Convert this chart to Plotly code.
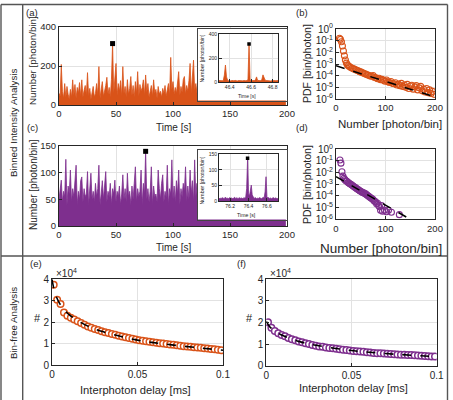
import numpy as np
import plotly.graph_objects as go

W, H = 453, 400
ORANGE = '#D95319'
PURPLE = '#7E2F8E'
AX = '#262626'
GRID = '#e2e2e2'
FONT = 'Liberation Sans, Arial, sans-serif'

# ---------------- data ----------------
# (a) binned intensity trace, 1 s bins, photons/bin
COUNTS_A = [60, 45, 208, 70, 35, 110, 40, 95, 55, 30,
            80, 40, 129, 50, 105, 35, 90, 60, 115, 45,
            129, 40, 75, 100, 50, 166, 45, 85, 30, 70,
            95, 40, 60, 110, 50, 197, 35, 80, 120, 45,
            70, 100, 142, 55, 90, 40, 130, 315, 60, 120,
            213, 50, 110, 70, 125, 45, 197, 60, 95, 40,
            130, 55, 85, 146, 50, 100, 40, 120, 60, 171,
            45, 105, 70, 90, 129, 50, 154, 65, 110, 40,
            75, 100, 45, 129, 60, 80, 35, 95, 55, 70,
            40, 85, 60, 100, 45, 75, 110, 50, 244, 80,
            120, 55, 90, 60, 140, 171, 50, 95, 65, 130,
            146, 55, 100, 70, 125, 213, 60, 140, 230, 75,
            110, 60, 180, 50, 95, 70, 140, 55, 100, 65,
            120, 45, 90, 160, 55, 100, 70, 130, 50, 95,
            75, 150, 60, 110, 45, 200, 70, 120, 55, 90,
            65, 140, 50, 100, 75, 170, 60, 95, 45, 130,
            80, 110, 55, 150, 70, 100, 50, 125, 65, 90,
            140, 60, 105, 45, 180, 75, 95, 55, 120, 70,
            100, 50, 160, 65, 90, 45, 130, 75, 110, 60,
            150, 55, 95, 70, 120, 50, 100, 65, 85, 60]
MARK_A_T = [47]
MARK_A_N = [315]

# (a) inset, 10 ms bins starting at 46.30 s
INSET_A_START = 46.30
INSET_A_COUNTS = [14, 12, 16, 13, 15, 60, 144, 45, 18, 12,
                  14, 11, 15, 13, 12, 16, 13, 11, 14, 12,
                  15, 13, 12, 14, 11, 13, 15, 22, 320, 18,
                  13, 14, 12, 15, 22, 45, 16, 12, 14, 13,
                  25, 62, 40, 18, 15, 13, 12, 14, 11, 13,
                  15, 12, 14, 13, 12, 14]
MARK_A_INSET_T = [46.58]
MARK_A_INSET_N = [320]

# (c) binned intensity trace
COUNTS_C = [50, 70, 86, 45, 65, 55, 125, 40, 75, 60,
            105, 45, 70, 55, 80, 114, 40, 65, 50, 85,
            92, 45, 70, 55, 60, 102, 40, 75, 99, 50,
            65, 45, 80, 55, 70, 114, 40, 60, 85, 50,
            75, 102, 45, 65, 55, 80, 40, 70, 60, 86,
            45, 65, 55, 75, 40, 60, 96, 50, 70, 45,
            99, 55, 65, 40, 75, 50, 80, 111, 45, 70,
            55, 65, 105, 40, 80, 60, 140, 50, 70, 45,
            65, 111, 40, 75, 55, 60, 45, 105, 70, 50,
            80, 96, 45, 65, 55, 114, 40, 70, 60, 124,
            50, 75, 45, 85, 60, 105, 40, 70, 55, 80,
            65, 111, 45, 75, 50, 105, 60, 85, 45, 124,
            55, 80, 45, 95, 60, 70, 40, 110, 50, 75,
            60, 90, 45, 70, 100, 55, 65, 40, 85, 60,
            75, 45, 105, 55, 70, 50, 90, 60, 45, 80,
            65, 115, 50, 70, 45, 85, 60, 95, 50, 70,
            45, 80, 60, 100, 55, 75, 40, 90, 65, 50,
            85, 55, 70, 45, 110, 60, 75, 50, 95, 65,
            45, 80, 60, 70, 100, 50, 75, 45, 90, 60,
            70, 50, 85, 60, 105, 45, 75, 55, 65, 50]
MARK_C_T = [76]
MARK_C_N = [140]

INSET_C_START = 76.08
INSET_C_COUNTS = [9, 7, 10, 8, 11, 7, 9, 12, 8, 10,
                  7, 9, 11, 8, 10, 7, 9, 12, 8, 10,
                  9, 7, 11, 8, 10, 9, 7, 11, 9, 12,
                  40, 137, 25, 15, 35, 51, 20, 10, 8, 11,
                  9, 7, 10, 8, 11, 9, 7, 10, 12, 9,
                  30, 78, 14, 9, 11, 8, 10, 7, 9, 11,
                  8, 10, 9, 7, 10]
MARK_C_INSET_T = [76.39]
MARK_C_INSET_N = [137]
INSET_STEP = 0.01

# (b) PDF of counts
PDF_B_X = [7, 9, 11, 13, 15, 17, 19, 21, 23, 25, 27, 30, 33, 36, 39, 42, 45, 48,
           51, 54, 57, 60, 63, 66, 69, 72, 75, 78, 81, 84, 87, 90, 93, 96, 99,
           102, 105, 108, 111, 114, 117, 120, 123, 126, 129, 132, 135, 138, 141,
           144, 147, 150, 153, 156, 159, 162, 165, 168, 171, 174, 177, 180, 183,
           186, 189, 192, 195, 198]
PDF_B_Y = [0.16, 0.13, 0.08, 0.035, 0.013, 5e-3, 2.2e-3, 1.2e-3, 8.5e-4, 7e-4,
           6e-4, 5e-4, 4.3e-4, 3.8e-4, 3.3e-4, 2.9e-4, 2.6e-4, 2.2e-4,
           2.0e-4, 1.8e-4, 1.5e-4, 1.4e-4, 1.2e-4, 1.1e-4, 9.5e-5, 8.8e-5, 1.0e-4,
           7e-5, 6.5e-5, 5.5e-5, 6e-5, 4.5e-5, 4.8e-5, 4e-5, 3.4e-5,
           4.2e-5, 3e-5, 2.6e-5, 3.2e-5, 2.2e-5, 2.0e-5, 2.5e-5, 1.6e-5, 1.9e-5,
           1.4e-5, 2.2e-5, 1.2e-5, 1.6e-5, 1.0e-5, 1.8e-5, 8e-6, 1.3e-5, 1.5e-5,
           7e-6, 1.1e-5, 1.4e-5, 6e-6, 9e-6, 1.2e-5, 5e-6, 7e-6, 4e-6, 8e-6,
           3.5e-6, 6e-6, 3e-6, 4.5e-6, 2.5e-6]
FIT_B_X = [0, 200]
FIT_B_Y = [7e-4, 1.5e-6]

# (d) PDF of counts
PDF_D_X = [8, 10, 12, 14, 16, 18, 20, 22, 24, 26, 28, 30, 32, 34, 36, 38, 40, 42,
           44, 46, 48, 50, 52, 54, 56, 58, 60, 62, 64, 66, 68, 70, 72, 74, 76, 78,
           80, 82, 84, 86, 88, 90, 92, 94, 98, 102, 106, 112, 128]
PDF_D_Y = [0.12, 0.065, 0.012, 5e-3, 3.2e-3, 2.5e-3, 2.0e-3, 1.8e-3, 1.5e-3, 1.3e-3,
           1.1e-3, 1.0e-3, 8.5e-4, 7.5e-4, 6.5e-4, 5.5e-4, 5e-4, 4.2e-4,
           3.8e-4, 3.2e-4, 2.8e-4, 2.5e-4, 2.2e-4, 2.0e-4, 1.9e-4, 1.6e-4, 1.5e-4,
           1.25e-4, 1.1e-4, 9.5e-5, 8e-5, 7e-5, 6e-5, 5.5e-5, 4.2e-5, 3.5e-5,
           3.2e-5, 2.2e-5, 2.4e-5, 1.5e-5, 1.2e-5, 6e-6, 1.5e-5, 5e-6, 6e-6,
           4.5e-6, 6e-6, 4e-6, 2.5e-6]
FIT_D_X = [0, 150]
FIT_D_Y = [4.5e-3, 1e-6]

# (e), (f) interphoton delay histograms (counts in units of 1e4)
DELAY = [0.001, 0.003, 0.005, 0.007, 0.009, 0.011, 0.013, 0.015, 0.017, 0.019,
         0.021, 0.023, 0.025, 0.027, 0.029, 0.031, 0.033, 0.035, 0.037, 0.039,
         0.041, 0.043, 0.045, 0.047, 0.049, 0.051, 0.053, 0.055, 0.057, 0.059,
         0.061, 0.063, 0.065, 0.067, 0.069, 0.071, 0.073, 0.075, 0.077, 0.079,
         0.081, 0.083, 0.085, 0.087, 0.089, 0.091, 0.093, 0.095, 0.097, 0.099]
HIST_E = [3.75, 3.05, 2.85, 2.45, 2.3, 2.2, 2.12, 2.04, 1.96, 1.88,
          1.8, 1.74, 1.68, 1.63, 1.58, 1.53, 1.49, 1.45, 1.41, 1.37,
          1.33, 1.3, 1.26, 1.22, 1.19, 1.16, 1.13, 1.11, 1.08, 1.06,
          1.04, 1.02, 1.0, 0.98, 0.96, 0.94, 0.92, 0.9, 0.88, 0.86,
          0.85, 0.83, 0.82, 0.8, 0.78, 0.77, 0.75, 0.73, 0.71, 0.69]
FIT_E_X = [0, 0.002, 0.005, 0.01, 0.02, 0.03, 0.05, 0.07, 0.1]
FIT_E_Y = [4.0, 3.3, 2.8, 2.35, 1.85, 1.55, 1.16, 0.94, 0.69]
HIST_F = [2.0, 1.75, 1.6, 1.5, 1.42, 1.36, 1.28, 1.22, 1.17, 1.12,
          1.08, 1.03, 1.0, 0.96, 0.92, 0.89, 0.87, 0.84, 0.82, 0.8,
          0.78, 0.76, 0.74, 0.72, 0.7, 0.68, 0.67, 0.65, 0.64, 0.62,
          0.61, 0.59, 0.58, 0.57, 0.56, 0.55, 0.54, 0.53, 0.52, 0.51,
          0.5, 0.49, 0.49, 0.48, 0.47, 0.46, 0.45, 0.44, 0.43, 0.42]
FIT_F_X = [0, 0.002, 0.005, 0.01, 0.02, 0.03, 0.05, 0.07, 0.1]
FIT_F_Y = [2.05, 1.8, 1.6, 1.38, 1.1, 0.93, 0.7, 0.56, 0.42]

# ---------------- helpers ----------------
def dx(a, b):
    return [a / W, b / W]

def dy(top, bottom):
    return [1 - bottom / H, 1 - top / H]

def px(x):
    return x / W

def py(y):
    return 1 - y / H

fig = go.Figure()

time_a = np.arange(len(COUNTS_A))
time_c = np.arange(len(COUNTS_C))
t_ia = np.round(INSET_A_START + INSET_STEP * np.arange(len(INSET_A_COUNTS)), 2)
t_ic = np.round(INSET_C_START + INSET_STEP * np.arange(len(INSET_C_COUNTS)), 2)

def trace_fill(x, y, color, ax, lw=0.8):
    fig.add_trace(go.Scatter(x=x, y=y, mode='lines', line=dict(color=color, width=lw),
                             fill='tozeroy', fillcolor=color, xaxis='x' + ax, yaxis='y' + ax,
                             showlegend=False, hoverinfo='skip'))

def marker(x, y, ax, size=5):
    fig.add_trace(go.Scatter(x=x, y=y, mode='markers',
                             marker=dict(symbol='square', size=size, color='black'),
                             xaxis='x' + ax, yaxis='y' + ax, showlegend=False))

# (a) main
trace_fill(time_a, COUNTS_A, ORANGE, '')
marker(MARK_A_T, MARK_A_N, '')
# box for inset (a)
fig.add_trace(go.Scatter(x=[None], y=[None], xaxis='x2', yaxis='y2', showlegend=False))
# inset (a)
trace_fill(t_ia, INSET_A_COUNTS, ORANGE, '3', 0.8)
marker(MARK_A_INSET_T, MARK_A_INSET_N, '3', 3.5)
# (b)
fig.add_trace(go.Scatter(x=PDF_B_X, y=PDF_B_Y, mode='markers',
                         marker=dict(symbol='circle-open', size=6, color=ORANGE, line=dict(width=1.1)),
                         xaxis='x4', yaxis='y4', showlegend=False))
fig.add_trace(go.Scatter(x=FIT_B_X, y=FIT_B_Y, mode='lines', line=dict(color='black', width=1.5, dash='dash'),
                         xaxis='x4', yaxis='y4', showlegend=False))
# (c) main
trace_fill(time_c, COUNTS_C, PURPLE, '5')
marker(MARK_C_T, MARK_C_N, '5')
fig.add_trace(go.Scatter(x=[None], y=[None], xaxis='x6', yaxis='y6', showlegend=False))
trace_fill(t_ic, INSET_C_COUNTS, PURPLE, '7', 0.8)
marker(MARK_C_INSET_T, MARK_C_INSET_N, '7', 3.5)
# (d)
fig.add_trace(go.Scatter(x=PDF_D_X, y=PDF_D_Y, mode='markers',
                         marker=dict(symbol='circle-open', size=6, color=PURPLE, line=dict(width=1.1)),
                         xaxis='x8', yaxis='y8', showlegend=False))
fig.add_trace(go.Scatter(x=FIT_D_X, y=FIT_D_Y, mode='lines', line=dict(color='black', width=1.5, dash='dash'),
                         xaxis='x8', yaxis='y8', showlegend=False))
# (e)
fig.add_trace(go.Scatter(x=DELAY, y=HIST_E, mode='markers',
                         marker=dict(symbol='circle', size=6.5, color='white', line=dict(color=ORANGE, width=1.5)),
                         xaxis='x9', yaxis='y9', showlegend=False))
fig.add_trace(go.Scatter(x=FIT_E_X, y=FIT_E_Y, mode='lines', line=dict(color='black', width=1.6, dash='dash', shape='spline'),
                         xaxis='x9', yaxis='y9', showlegend=False))
# (f)
fig.add_trace(go.Scatter(x=DELAY, y=HIST_F, mode='markers',
                         marker=dict(symbol='circle', size=6.5, color='white', line=dict(color=PURPLE, width=1.5)),
                         xaxis='x10', yaxis='y10', showlegend=False))
fig.add_trace(go.Scatter(x=FIT_F_X, y=FIT_F_Y, mode='lines', line=dict(color='black', width=1.6, dash='dash', shape='spline'),
                         xaxis='x10', yaxis='y10', showlegend=False))

def axis(domain, anchor, rng, tickvals, ticktext=None, size=9, typ='linear', grid=True):
    d = dict(domain=domain, anchor=anchor, range=rng, tickvals=tickvals, type=typ,
             showline=True, mirror=True, linecolor=AX, linewidth=1,
             ticks='inside', ticklen=3, tickcolor=AX, tickwidth=0.8,
             showgrid=grid, gridcolor=GRID, gridwidth=1, zeroline=False,
             tickfont=dict(size=size, color=AX, family=FONT))
    if ticktext is not None:
        d['ticktext'] = ticktext
    return d

pow_vals = [1e-6, 1e-5, 1e-4, 1e-3, 1e-2, 1e-1, 1]
pow_text = ['10<sup>-6</sup>', '10<sup>-5</sup>', '10<sup>-4</sup>', '10<sup>-3</sup>',
            '10<sup>-2</sup>', '10<sup>-1</sup>', '10<sup>0</sup>']

box = dict(showline=True, mirror=True, linecolor='#444', linewidth=1, showgrid=False,
           showticklabels=False, ticks='', zeroline=False, range=[0, 1])

layout = dict(
    width=W, height=H, margin=dict(l=0, r=0, t=0, b=0),
    paper_bgcolor='white', plot_bgcolor='white', template='none',
    font=dict(family=FONT, color=AX),
    xaxis=axis(dx(59, 287), 'y', [0, 200], [0, 50, 100, 150, 200], size=9.5),
    yaxis=axis(dy(27, 105), 'x', [0, 400], [0, 200, 400], size=9.5),
    xaxis2=dict(box, domain=dx(198, 287), anchor='y2'),
    yaxis2=dict(box, domain=dy(29, 100.5), anchor='x2'),
    xaxis3=axis(dx(219, 278), 'y3', [46.3, 46.85], [46.4, 46.6, 46.8], size=5),
    yaxis3=axis(dy(34.3, 82.3), 'x3', [0, 400], [0, 200, 400], size=5),
    xaxis4=axis(dx(336, 435), 'y4', [0, 200], [0, 100, 200], size=9.5),
    yaxis4=axis(dy(29, 99), 'x4', [-6, 0], pow_vals, pow_text, typ='log', size=10),
    xaxis5=axis(dx(59, 287), 'y5', [0, 200], [0, 50, 100, 150, 200], size=9.5),
    yaxis5=axis(dy(146, 226), 'x5', [0, 150], [0, 50, 100, 150], size=9.5),
    xaxis6=dict(box, domain=dx(197.5, 287), anchor='y6'),
    yaxis6=dict(box, domain=dy(149.5, 219.5), anchor='x6'),
    xaxis7=axis(dx(219, 278), 'y7', [76.08, 76.72], [76.2, 76.4, 76.6], size=5),
    yaxis7=axis(dy(154.3, 201), 'x7', [0, 150], [0, 50, 100, 150], size=5),
    xaxis8=axis(dx(336, 435), 'y8', [0, 200], [0, 100, 200], size=9.5),
    yaxis8=axis(dy(149.3, 219.3), 'x8', [-6, 0], pow_vals, pow_text, typ='log', size=10),
    xaxis9=axis(dx(52, 223), 'y9', [0, 0.1], [0, 0.05, 0.1], ['0', '0.05', '0.1'], size=10),
    yaxis9=axis(dy(279.3, 365), 'x9', [0, 4], [0, 1, 2, 3, 4], size=10),
    xaxis10=axis(dx(266.3, 436.7), 'y10', [0, 0.1], [0, 0.05, 0.1], ['0', '0.05', '0.1'], size=10),
    yaxis10=axis(dy(279, 365.7), 'x10', [0, 4], [0, 1, 2, 3, 4], size=10),
)
fig.update_layout(**layout)

ann = []
def text(t, x, y, size, angle=0, xanchor='center'):
    ann.append(dict(text=t, x=px(x), y=py(y), xref='paper', yref='paper', showarrow=False,
                    textangle=angle, xanchor=xanchor, yanchor='middle',
                    font=dict(size=size, family=FONT, color=AX)))

text('(a)', 32, 12.7, 9.5)
text('(b)', 302, 13, 9.5)
text('(c)', 32, 127, 9.5)
text('(d)', 302, 127, 9.5)
text('(e)', 36, 263, 9.5)
text('(f)', 242, 263, 9.5)
text('Binned Intensity Analysis', 13, 123, 9.8, -90)
text('Bin-free Analysis', 13, 323, 9.7, -90)
text('Number [photon/bin]', 33, 61, 9.8, -90)
text('Time [s]', 173, 127, 10)
text('PDF [bin/photon]', 307, 64, 10.5, -90)
text('Number [photon/bin]', 390, 124, 11.5)
text('Number [photon/bin]', 33, 185, 10, -90)
text('Time [s]', 173, 247, 10)
text('PDF [bin/photon]', 307, 185, 10.5, -90)
text('Number [photon/bin]', 381, 248, 13.5)
text('#', 37, 318, 11)
text('Interphoton delay [ms]', 135, 390, 11.2)
text('×10<sup>4</sup>', 66, 273, 10)
text('#', 249, 318, 11)
text('Interphoton delay [ms]', 353, 388, 11)
text('×10<sup>4</sup>', 280, 273, 10)
text('Time [s]', 247, 96, 5)
text('Number [photon/bin]', 201.5, 58, 5.3, -90)
text('Time [s]', 246, 215.5, 5.2)
text('Number [photon/bin]', 201.5, 180, 5.3, -90)
fig.update_layout(annotations=ann)

LC = '#555555'
shapes = []
def line(x0, y0, x1, y1):
    shapes.append(dict(type='line', xref='paper', yref='paper', x0=px(x0), y0=py(y0),
                       x1=px(x1), y1=py(y1), line=dict(color=LC, width=1.4), layer='above'))
line(1, 4.5, 447.5, 4.5)
line(1, 4.5, 1, 400)
line(447.5, 4.5, 447.5, 400)
line(22.7, 4.5, 22.7, 400)
line(1, 256, 447.5, 256)
fig.update_layout(shapes=shapes)

fig.write_html('out.html')
